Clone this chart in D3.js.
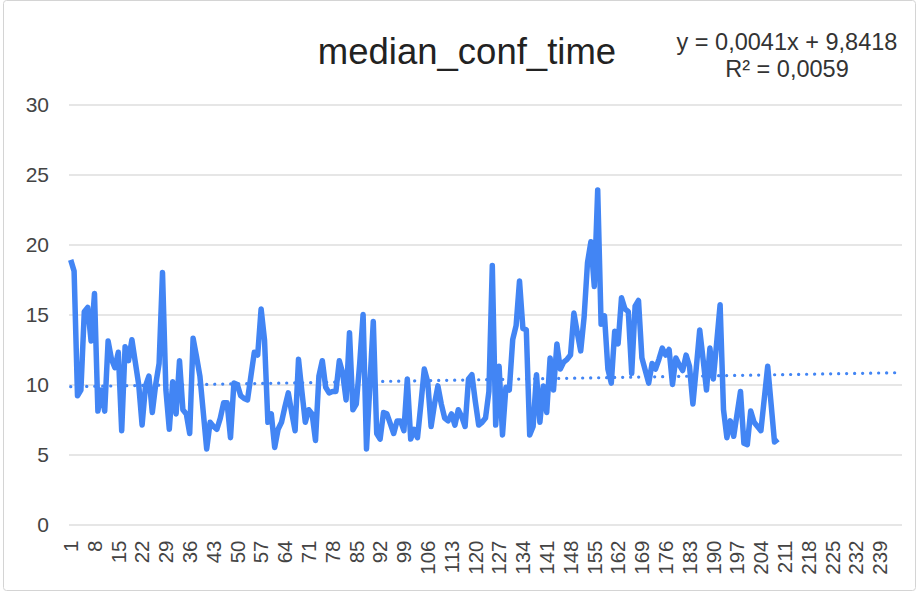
<!DOCTYPE html>
<html>
<head>
<meta charset="utf-8">
<script src="https://cdn.jsdelivr.net/npm/d3@7"></script>
<style>
  body { margin: 0; background: #fff; }
  text { font-family: "Liberation Sans", Arial, sans-serif; }
</style>
</head>
<body>
<svg></svg>
<script>
// Data
const title = "median_conf_time";
const categories = d3.range(1, 246);
const values = [
  18.9, 18.1, 9.2, 9.6, 15.2, 15.5, 13.1, 16.5, 8.1, 9.6,
  8.1, 13.1, 11.8, 11.2, 12.3, 6.7, 12.7, 11.7, 13.2, 11.6,
  10.0, 7.1, 9.9, 10.6, 8.0, 10.0, 11.5, 18.0, 9.6, 6.8,
  10.2, 7.9, 11.7, 8.2, 7.9, 6.5, 13.3, 12.0, 10.6, 8.0,
  5.4, 7.3, 7.0, 6.8, 7.6, 8.7, 8.7, 6.2, 10.1, 10.0,
  9.2, 9.0, 8.9, 10.6, 12.3, 12.1, 15.4, 13.2, 7.3, 7.9,
  5.5, 6.8, 7.3, 8.4, 9.4, 8.0, 6.7, 11.8, 9.5, 7.3,
  8.2, 7.9, 6.0, 10.6, 11.7, 9.8, 9.4, 9.5, 9.5, 11.7,
  10.8, 8.9, 13.7, 8.2, 8.6, 11.5, 15.0, 5.4, 10.0, 14.5,
  6.5, 6.1, 8.0, 7.9, 7.2, 6.5, 7.4, 7.4, 6.7, 10.4,
  6.1, 6.8, 6.2, 8.6, 11.1, 10.2, 7.0, 8.6, 9.9, 8.6,
  7.6, 7.4, 7.9, 7.1, 8.2, 7.7, 7.0, 10.4, 10.7, 8.8,
  7.1, 7.3, 7.6, 9.5, 18.5, 7.1, 11.3, 6.4, 9.8, 9.6,
  13.2, 14.2, 17.4, 14.0, 13.9, 6.4, 7.0, 10.7, 7.3, 9.9,
  8.0, 11.9, 9.6, 12.9, 11.1, 11.6, 11.8, 12.1, 15.1, 13.7,
  12.4, 14.8, 18.7, 20.2, 17.0, 23.9, 14.3, 14.9, 11.1, 10.1,
  13.8, 12.9, 16.2, 15.4, 15.2, 10.8, 15.6, 16.0, 11.9, 11.0,
  10.1, 11.5, 11.1, 11.8, 12.6, 12.1, 12.5, 10.0, 11.9, 11.4,
  11.0, 12.1, 11.3, 8.6, 11.2, 13.9, 11.8, 9.6, 12.6, 10.4,
  13.0, 15.7, 8.2, 6.2, 7.4, 6.3, 7.9, 9.5, 5.8, 5.7,
  8.1, 7.3, 7.0, 6.7, 9.0, 11.3, 8.6, 5.9, 6.1
];
const xTickLabels = [1, 8, 15, 22, 29, 36, 43, 50, 57, 64, 71, 78, 85, 92, 99, 106,
  113, 120, 127, 134, 141, 148, 155, 162, 169, 176, 183, 190, 197, 204, 211, 218,
  225, 232, 239];
const yTicks = [0, 5, 10, 15, 20, 25, 30];
const trendSlope = 0.0041;
const trendIntercept = 9.8418;
const trendLabel = ["y = 0,0041x + 9,8418", "R\u00b2 = 0,0059"];

// Sizes
const W = 919, H = 592;
const margin = { l: 69, r: 17, t: 104.5, b: 67.5 };

const svg = d3.select("svg")
  .attr("width", W)
  .attr("height", H);

// frame
svg.append("rect")
  .attr("x", 3.5).attr("y", 0.5)
  .attr("width", 912).attr("height", 590)
  .attr("rx", 3)
  .attr("fill", "#fff")
  .attr("stroke", "#d4d4d4");

const x = d3.scaleBand()
  .domain(categories)
  .range([margin.l, W - margin.r]);

const y = d3.scaleLinear()
  .domain([0, 30])
  .range([H - margin.b, margin.t]);

const cx = d => x(d) + x.bandwidth() / 2;

// y grid
svg.append("g")
  .attr("class", "grid")
  .attr("transform", `translate(${margin.l}, 0)`)
  .call(d3.axisLeft(y).tickValues(yTicks).tickSize(-(W - margin.r - margin.l)).tickFormat(""))
  .call(g => g.select(".domain").remove())
  .call(g => g.selectAll("line").attr("stroke", "#dedede").attr("stroke-width", 1.6));

// y labels
svg.append("g")
  .attr("transform", `translate(49, 0)`)
  .call(d3.axisLeft(y).tickValues(yTicks).tickSize(0).tickPadding(0))
  .call(g => g.select(".domain").remove())
  .call(g => g.selectAll("text")
    .attr("font-size", 21)
    .attr("fill", "#444")
    .style("font-family", "'Liberation Sans', Arial, sans-serif"));

// x labels
svg.append("g")
  .attr("transform", `translate(0, ${H - margin.b})`)
  .call(d3.axisBottom(x).tickValues(xTickLabels).tickSize(0).tickPadding(0))
  .call(g => g.select(".domain").remove())
  .call(g => g.selectAll("text")
    .attr("font-size", 20.5)
    .attr("fill", "#444")
    .style("font-family", "'Liberation Sans', Arial, sans-serif")
    .attr("text-anchor", "end")
    .attr("dy", "0.36em")
    .attr("transform", "translate(0, 16) rotate(-90)")
    .attr("x", 0).attr("y", 0));

// trendline
const trend = [categories[0], categories[categories.length - 1]];
svg.append("path")
  .datum(trend)
  .attr("fill", "none")
  .attr("stroke", "#4285f4")
  .attr("stroke-width", 3.2)
  .attr("stroke-linecap", "round")
  .attr("stroke-dasharray", "0.1 7.9")
  .attr("d", d3.line().x(d => cx(d)).y(d => y(trendSlope * d + trendIntercept)));

// series line
svg.append("path")
  .datum(values)
  .attr("fill", "none")
  .attr("stroke", "#4285f4")
  .attr("stroke-width", 5.5)
  .attr("stroke-linejoin", "round")
  .attr("d", d3.line().x((d, i) => cx(categories[i])).y(d => y(d)));

// title
svg.append("text")
  .attr("x", 467).attr("y", 64)
  .attr("text-anchor", "middle")
  .attr("font-size", 36.5)
  .attr("fill", "#222")
  .text(title);

// trend equation
svg.append("g").selectAll("text")
  .data(trendLabel)
  .join("text")
    .attr("x", 787)
    .attr("y", (d, i) => 50 + i * 27)
    .attr("text-anchor", "middle")
    .attr("font-size", 23.5)
    .attr("fill", "#333")
    .text(d => d);
</script>
</body>
</html>
